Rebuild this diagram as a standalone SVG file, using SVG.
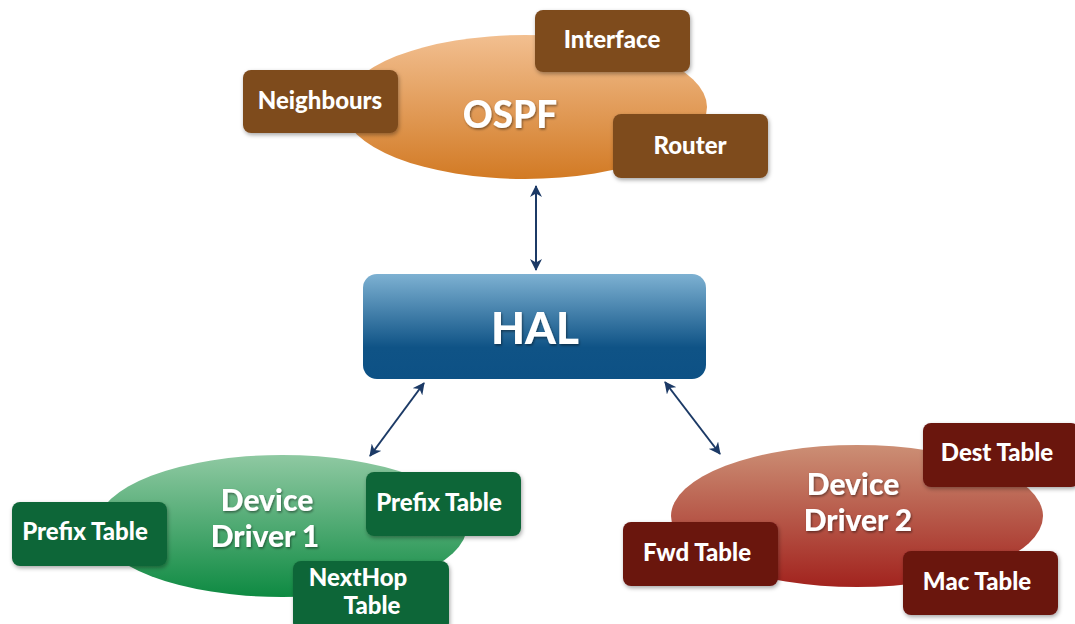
<svg xmlns="http://www.w3.org/2000/svg" width="1075" height="624" viewBox="0 0 1075 624">
<defs>
<linearGradient id="gOspf" x1="0" y1="0" x2="0" y2="1">
<stop offset="0" stop-color="#f2bf90"/><stop offset="1" stop-color="#d27a24"/>
</linearGradient>
<linearGradient id="gHal" x1="0" y1="0" x2="0" y2="1">
<stop offset="0" stop-color="#7db1d2"/><stop offset="0.7" stop-color="#0f5386"/><stop offset="1" stop-color="#0d5185"/>
</linearGradient>
<linearGradient id="gDd1" x1="0" y1="0" x2="0" y2="1">
<stop offset="0" stop-color="#8fc9a2"/><stop offset="1" stop-color="#0e8a42"/>
</linearGradient>
<linearGradient id="gDd2" x1="0" y1="0" x2="0" y2="1">
<stop offset="0" stop-color="#cc8f75"/><stop offset="1" stop-color="#a2231e"/>
</linearGradient>
<filter id="sh" x="-10%" y="-10%" width="125%" height="130%">
<feDropShadow dx="1" dy="2" stdDeviation="2" flood-color="#000" flood-opacity="0.35"/>
</filter>
<filter id="tsh" x="-10%" y="-20%" width="125%" height="150%">
<feDropShadow dx="1" dy="1.5" stdDeviation="1.2" flood-color="#000" flood-opacity="0.45"/>
</filter>
<marker id="ah" viewBox="0 0 12 12" refX="11" refY="6" markerWidth="12" markerHeight="12" markerUnits="userSpaceOnUse" orient="auto-start-reverse">
<path d="M0,0 L12,6 L0,12 L3.5,6 Z" fill="#1c3a66"/>
</marker>
</defs>
<style>
text{font-family:"Lato","Open Sans","DejaVu Sans",sans-serif;font-weight:900;fill:#fff;text-anchor:middle}
.sub{font-size:24px}
.main{font-size:30px;filter:url(#tsh)}
.ospf{font-size:37px;filter:url(#tsh)}
.hal{font-size:44px;filter:url(#tsh)}
.box{filter:url(#sh)}
.b-o{fill:#7e4c1f}
.b-g{fill:#0f6638}
.b-r{fill:#6a1410}
.conn line{stroke:#1c3a66;stroke-width:2;marker-start:url(#ah);marker-end:url(#ah)}
</style>

<g id="connectors" class="conn">
<line x1="536" y1="186" x2="536" y2="270"/>
<line x1="424" y1="383" x2="370" y2="456"/>
<line x1="665" y1="382" x2="720" y2="454"/>
</g>

<g id="ospf">
<ellipse cx="525" cy="107" rx="182" ry="72" fill="url(#gOspf)"/>
<text class="ospf" x="510" y="128">OSPF</text>
</g>
<g id="interface">
<rect class="box b-o" x="535" y="10" width="155" height="62" rx="8"/>
<text class="sub" x="612" y="48">Interface</text>
</g>
<g id="neighbours">
<rect class="box b-o" x="243" y="70" width="155" height="63" rx="8"/>
<text class="sub" x="320" y="109">Neighbours</text>
</g>
<g id="router">
<rect class="box b-o" x="613" y="114" width="155" height="64" rx="8"/>
<text class="sub" x="690" y="154">Router</text>
</g>

<g id="hal">
<rect x="363" y="274" width="343" height="105" rx="14" fill="url(#gHal)"/>
<text class="hal" x="535" y="344">HAL</text>
</g>

<g id="dd1">
<ellipse cx="282" cy="526" rx="185" ry="71" fill="url(#gDd1)"/>
<text class="main" x="267" y="511">Device</text>
<text class="main" x="265" y="547">Driver 1</text>
</g>
<g id="prefix-left">
<rect class="box b-g" x="12" y="502" width="155" height="64" rx="8"/>
<text class="sub" x="85" y="540">Prefix Table</text>
</g>
<g id="prefix-right">
<rect class="box b-g" x="366" y="472" width="155" height="64" rx="8"/>
<text class="sub" x="439" y="511">Prefix Table</text>
</g>
<g id="nexthop">
<rect class="box b-g" x="293" y="561" width="156" height="70" rx="8"/>
<text class="sub" x="358" y="586">NextHop</text>
<text class="sub" x="372" y="614">Table</text>
</g>

<g id="dd2">
<ellipse cx="857" cy="516" rx="186" ry="71" fill="url(#gDd2)"/>
<text class="main" x="853" y="495">Device</text>
<text class="main" x="858" y="531">Driver 2</text>
</g>
<g id="dest">
<rect class="box b-r" x="923" y="423" width="156" height="64" rx="8"/>
<text class="sub" x="997" y="461">Dest Table</text>
</g>
<g id="fwd">
<rect class="box b-r" x="623" y="522" width="155" height="64" rx="8"/>
<text class="sub" x="697" y="561">Fwd Table</text>
</g>
<g id="mac">
<rect class="box b-r" x="903" y="551" width="155" height="64" rx="8"/>
<text class="sub" x="977" y="590">Mac Table</text>
</g>
</svg>
